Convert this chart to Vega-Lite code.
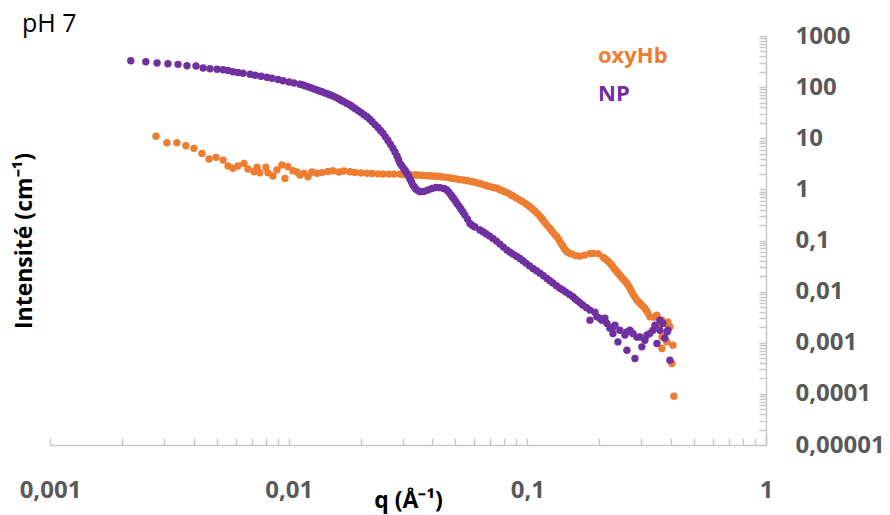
{
  "$schema": "https://vega.github.io/schema/vega-lite/v6.json",
  "width": 716,
  "height": 409,
  "autosize": {"type": "none"},
  "padding": {"left": 50, "top": 36, "right": 124, "bottom": 70},
  "background": "white",
  "config": {"view": {"stroke": null}, "font": "Open Sans"},
  "title": {"text": "pH 7", "anchor": "start", "frame": "group", "dx": -28, "offset": -13, "fontSize": 25, "fontWeight": "normal", "color": "#000000", "font": "Open Sans"},
  "data": {"values": [
    {"series": "oxyHb", "q": 0.00278, "I": 11.0},
    {"series": "oxyHb", "q": 0.00309, "I": 8.16},
    {"series": "oxyHb", "q": 0.00340, "I": 8.16},
    {"series": "oxyHb", "q": 0.00371, "I": 7.13},
    {"series": "oxyHb", "q": 0.00401, "I": 6.34},
    {"series": "oxyHb", "q": 0.00433, "I": 5.06},
    {"series": "oxyHb", "q": 0.00464, "I": 3.92},
    {"series": "oxyHb", "q": 0.00496, "I": 4.23},
    {"series": "oxyHb", "q": 0.00531, "I": 3.74},
    {"series": "oxyHb", "q": 0.00557, "I": 2.86},
    {"series": "oxyHb", "q": 0.00584, "I": 2.58},
    {"series": "oxyHb", "q": 0.00613, "I": 2.86},
    {"series": "oxyHb", "q": 0.00650, "I": 3.23},
    {"series": "oxyHb", "q": 0.00675, "I": 2.50},
    {"series": "oxyHb", "q": 0.00716, "I": 2.21},
    {"series": "oxyHb", "q": 0.00737, "I": 2.70},
    {"series": "oxyHb", "q": 0.00758, "I": 2.11},
    {"series": "oxyHb", "q": 0.00803, "I": 2.70},
    {"series": "oxyHb", "q": 0.00819, "I": 2.11},
    {"series": "oxyHb", "q": 0.00859, "I": 1.82},
    {"series": "oxyHb", "q": 0.00893, "I": 2.39},
    {"series": "oxyHb", "q": 0.00937, "I": 2.99},
    {"series": "oxyHb", "q": 0.00965, "I": 1.64},
    {"series": "oxyHb", "q": 0.00993, "I": 2.77},
    {"series": "oxyHb", "q": 0.01042, "I": 2.31},
    {"series": "oxyHb", "q": 0.01083, "I": 2.18},
    {"series": "oxyHb", "q": 0.01115, "I": 1.91},
    {"series": "oxyHb", "q": 0.01159, "I": 2.08},
    {"series": "oxyHb", "q": 0.01205, "I": 1.76},
    {"series": "oxyHb", "q": 0.01252, "I": 2.18},
    {"series": "oxyHb", "q": 0.01314, "I": 2.06},
    {"series": "oxyHb", "q": 0.01379, "I": 2.13},
    {"series": "oxyHb", "q": 0.01461, "I": 2.23},
    {"series": "oxyHb", "q": 0.01533, "I": 2.31},
    {"series": "oxyHb", "q": 0.01625, "I": 2.18},
    {"series": "oxyHb", "q": 0.01705, "I": 2.28},
    {"series": "oxyHb", "q": 0.01807, "I": 2.21},
    {"series": "oxyHb", "q": 0.01896, "I": 2.15},
    {"series": "oxyHb", "q": 0.02009, "I": 2.10},
    {"series": "oxyHb", "q": 0.02128, "I": 2.06},
    {"series": "oxyHb", "q": 0.02234, "I": 2.04},
    {"series": "oxyHb", "q": 0.02366, "I": 2.01},
    {"series": "oxyHb", "q": 0.02484, "I": 1.99},
    {"series": "oxyHb", "q": 0.02632, "I": 1.99},
    {"series": "oxyHb", "q": 0.02761, "I": 1.99},
    {"series": "oxyHb", "q": 0.02927, "I": 1.99},
    {"series": "oxyHb", "q": 0.03011, "I": 1.975},
    {"series": "oxyHb", "q": 0.03100, "I": 1.95},
    {"series": "oxyHb", "q": 0.03176, "I": 1.94},
    {"series": "oxyHb", "q": 0.03253, "I": 1.92},
    {"series": "oxyHb", "q": 0.03349, "I": 1.91},
    {"series": "oxyHb", "q": 0.03447, "I": 1.91},
    {"series": "oxyHb", "q": 0.03532, "I": 1.90},
    {"series": "oxyHb", "q": 0.03617, "I": 1.88},
    {"series": "oxyHb", "q": 0.03724, "I": 1.86},
    {"series": "oxyHb", "q": 0.03834, "I": 1.85},
    {"series": "oxyHb", "q": 0.03927, "I": 1.84},
    {"series": "oxyHb", "q": 0.04023, "I": 1.82},
    {"series": "oxyHb", "q": 0.04161, "I": 1.81},
    {"series": "oxyHb", "q": 0.04304, "I": 1.78},
    {"series": "oxyHb", "q": 0.04450, "I": 1.75},
    {"series": "oxyHb", "q": 0.04604, "I": 1.72},
    {"series": "oxyHb", "q": 0.04740, "I": 1.68},
    {"series": "oxyHb", "q": 0.04878, "I": 1.64},
    {"series": "oxyHb", "q": 0.05047, "I": 1.60},
    {"series": "oxyHb", "q": 0.05219, "I": 1.55},
    {"series": "oxyHb", "q": 0.05398, "I": 1.52},
    {"series": "oxyHb", "q": 0.05585, "I": 1.49},
    {"series": "oxyHb", "q": 0.05747, "I": 1.45},
    {"series": "oxyHb", "q": 0.05918, "I": 1.41},
    {"series": "oxyHb", "q": 0.06120, "I": 1.35},
    {"series": "oxyHb", "q": 0.06330, "I": 1.30},
    {"series": "oxyHb", "q": 0.06516, "I": 1.24},
    {"series": "oxyHb", "q": 0.06708, "I": 1.19},
    {"series": "oxyHb", "q": 0.06871, "I": 1.155},
    {"series": "oxyHb", "q": 0.07039, "I": 1.12},
    {"series": "oxyHb", "q": 0.07245, "I": 1.08},
    {"series": "oxyHb", "q": 0.07458, "I": 1.05},
    {"series": "oxyHb", "q": 0.07640, "I": 0.995},
    {"series": "oxyHb", "q": 0.07829, "I": 0.947},
    {"series": "oxyHb", "q": 0.08055, "I": 0.898},
    {"series": "oxyHb", "q": 0.08295, "I": 0.846},
    {"series": "oxyHb", "q": 0.08493, "I": 0.791},
    {"series": "oxyHb", "q": 0.08702, "I": 0.740},
    {"series": "oxyHb", "q": 0.08956, "I": 0.685},
    {"series": "oxyHb", "q": 0.09221, "I": 0.631},
    {"series": "oxyHb", "q": 0.09494, "I": 0.585},
    {"series": "oxyHb", "q": 0.09770, "I": 0.539},
    {"series": "oxyHb", "q": 0.1001, "I": 0.497},
    {"series": "oxyHb", "q": 0.1025, "I": 0.457},
    {"series": "oxyHb", "q": 0.1051, "I": 0.415},
    {"series": "oxyHb", "q": 0.1076, "I": 0.376},
    {"series": "oxyHb", "q": 0.1102, "I": 0.336},
    {"series": "oxyHb", "q": 0.1129, "I": 0.300},
    {"series": "oxyHb", "q": 0.1146, "I": 0.274},
    {"series": "oxyHb", "q": 0.1162, "I": 0.251},
    {"series": "oxyHb", "q": 0.1185, "I": 0.224},
    {"series": "oxyHb", "q": 0.1208, "I": 0.200},
    {"series": "oxyHb", "q": 0.1238, "I": 0.175},
    {"series": "oxyHb", "q": 0.1268, "I": 0.153},
    {"series": "oxyHb", "q": 0.1299, "I": 0.133},
    {"series": "oxyHb", "q": 0.1330, "I": 0.118},
    {"series": "oxyHb", "q": 0.1357, "I": 0.102},
    {"series": "oxyHb", "q": 0.1382, "I": 0.0889},
    {"series": "oxyHb", "q": 0.1404, "I": 0.0795},
    {"series": "oxyHb", "q": 0.1423, "I": 0.0710},
    {"series": "oxyHb", "q": 0.1445, "I": 0.0649},
    {"series": "oxyHb", "q": 0.1465, "I": 0.0601},
    {"series": "oxyHb", "q": 0.1502, "I": 0.0567},
    {"series": "oxyHb", "q": 0.1538, "I": 0.0542},
    {"series": "oxyHb", "q": 0.1598, "I": 0.0506},
    {"series": "oxyHb", "q": 0.1661, "I": 0.0495},
    {"series": "oxyHb", "q": 0.1743, "I": 0.0518},
    {"series": "oxyHb", "q": 0.1830, "I": 0.0554},
    {"series": "oxyHb", "q": 0.1883, "I": 0.0560},
    {"series": "oxyHb", "q": 0.1976, "I": 0.0554},
    {"series": "oxyHb", "q": 0.2074, "I": 0.0473},
    {"series": "oxyHb", "q": 0.2114, "I": 0.0442},
    {"series": "oxyHb", "q": 0.2156, "I": 0.0413},
    {"series": "oxyHb", "q": 0.2197, "I": 0.0378},
    {"series": "oxyHb", "q": 0.2240, "I": 0.0345},
    {"series": "oxyHb", "q": 0.2273, "I": 0.0316},
    {"series": "oxyHb", "q": 0.2306, "I": 0.0288},
    {"series": "oxyHb", "q": 0.2340, "I": 0.0264},
    {"series": "oxyHb", "q": 0.2374, "I": 0.0244},
    {"series": "oxyHb", "q": 0.2409, "I": 0.0225},
    {"series": "oxyHb", "q": 0.2443, "I": 0.0210},
    {"series": "oxyHb", "q": 0.2480, "I": 0.0192},
    {"series": "oxyHb", "q": 0.2515, "I": 0.0176},
    {"series": "oxyHb", "q": 0.2564, "I": 0.0161},
    {"series": "oxyHb", "q": 0.2614, "I": 0.0145},
    {"series": "oxyHb", "q": 0.2652, "I": 0.0131},
    {"series": "oxyHb", "q": 0.2691, "I": 0.0117},
    {"series": "oxyHb", "q": 0.2730, "I": 0.0102},
    {"series": "oxyHb", "q": 0.2770, "I": 0.00894},
    {"series": "oxyHb", "q": 0.2824, "I": 0.00781},
    {"series": "oxyHb", "q": 0.2878, "I": 0.00682},
    {"series": "oxyHb", "q": 0.2935, "I": 0.00623},
    {"series": "oxyHb", "q": 0.2992, "I": 0.00569},
    {"series": "oxyHb", "q": 0.3050, "I": 0.00520},
    {"series": "oxyHb", "q": 0.3110, "I": 0.00469},
    {"series": "oxyHb", "q": 0.3155, "I": 0.00425},
    {"series": "oxyHb", "q": 0.3200, "I": 0.00380},
    {"series": "oxyHb", "q": 0.3262, "I": 0.00321},
    {"series": "oxyHb", "q": 0.3392, "I": 0.00317},
    {"series": "oxyHb", "q": 0.3492, "I": 0.00347},
    {"series": "oxyHb", "q": 0.3594, "I": 0.00221},
    {"series": "oxyHb", "q": 0.3664, "I": 0.00277},
    {"series": "oxyHb", "q": 0.3771, "I": 0.00239},
    {"series": "oxyHb", "q": 0.3882, "I": 0.00253},
    {"series": "oxyHb", "q": 0.3958, "I": 0.00205},
    {"series": "oxyHb", "q": 0.3664, "I": 0.00130},
    {"series": "oxyHb", "q": 0.3845, "I": 0.00104},
    {"series": "oxyHb", "q": 0.4074, "I": 0.000898},
    {"series": "oxyHb", "q": 0.3664, "I": 0.000774},
    {"series": "oxyHb", "q": 0.4035, "I": 0.000393},
    {"series": "oxyHb", "q": 0.4113, "I": 0.0000902},
    {"series": "NP", "q": 0.00218, "I": 329},
    {"series": "NP", "q": 0.00252, "I": 314},
    {"series": "NP", "q": 0.00281, "I": 296},
    {"series": "NP", "q": 0.00312, "I": 287},
    {"series": "NP", "q": 0.00344, "I": 279},
    {"series": "NP", "q": 0.00375, "I": 262},
    {"series": "NP", "q": 0.00409, "I": 259},
    {"series": "NP", "q": 0.00438, "I": 237},
    {"series": "NP", "q": 0.00468, "I": 229},
    {"series": "NP", "q": 0.00501, "I": 223},
    {"series": "NP", "q": 0.00531, "I": 219},
    {"series": "NP", "q": 0.00557, "I": 211},
    {"series": "NP", "q": 0.00584, "I": 200},
    {"series": "NP", "q": 0.00613, "I": 193},
    {"series": "NP", "q": 0.00644, "I": 187},
    {"series": "NP", "q": 0.00689, "I": 178},
    {"series": "NP", "q": 0.00723, "I": 171},
    {"series": "NP", "q": 0.00766, "I": 163.5},
    {"series": "NP", "q": 0.00811, "I": 155.5},
    {"series": "NP", "q": 0.00851, "I": 148.7},
    {"series": "NP", "q": 0.00902, "I": 140.8},
    {"series": "NP", "q": 0.00947, "I": 133.4},
    {"series": "NP", "q": 0.01003, "I": 125.9},
    {"series": "NP", "q": 0.01052, "I": 120.3},
    {"series": "NP", "q": 0.01115, "I": 113.4},
    {"series": "NP", "q": 0.01148, "I": 110.0},
    {"series": "NP", "q": 0.01170, "I": 106.0},
    {"series": "NP", "q": 0.01205, "I": 101.4},
    {"series": "NP", "q": 0.01240, "I": 96.9},
    {"series": "NP", "q": 0.01276, "I": 92.2},
    {"series": "NP", "q": 0.01314, "I": 87.8},
    {"series": "NP", "q": 0.01346, "I": 84.2},
    {"series": "NP", "q": 0.01379, "I": 80.9},
    {"series": "NP", "q": 0.01419, "I": 77.0},
    {"series": "NP", "q": 0.01461, "I": 73.3},
    {"series": "NP", "q": 0.01496, "I": 70.0},
    {"series": "NP", "q": 0.01533, "I": 66.9},
    {"series": "NP", "q": 0.01578, "I": 62.6},
    {"series": "NP", "q": 0.01625, "I": 58.5},
    {"series": "NP", "q": 0.01664, "I": 54.9},
    {"series": "NP", "q": 0.01705, "I": 51.6},
    {"series": "NP", "q": 0.01755, "I": 48.0},
    {"series": "NP", "q": 0.01807, "I": 44.6},
    {"series": "NP", "q": 0.01851, "I": 41.3},
    {"series": "NP", "q": 0.01896, "I": 38.1},
    {"series": "NP", "q": 0.01951, "I": 34.8},
    {"series": "NP", "q": 0.02009, "I": 31.8},
    {"series": "NP", "q": 0.02068, "I": 28.9},
    {"series": "NP", "q": 0.02128, "I": 26.3},
    {"series": "NP", "q": 0.02181, "I": 23.8},
    {"series": "NP", "q": 0.02234, "I": 21.2},
    {"series": "NP", "q": 0.02299, "I": 18.5},
    {"series": "NP", "q": 0.02366, "I": 16.2},
    {"series": "NP", "q": 0.02424, "I": 14.2},
    {"series": "NP", "q": 0.02484, "I": 12.5},
    {"series": "NP", "q": 0.02543, "I": 10.65},
    {"series": "NP", "q": 0.02606, "I": 9.02},
    {"series": "NP", "q": 0.02669, "I": 7.60},
    {"series": "NP", "q": 0.02735, "I": 6.34},
    {"series": "NP", "q": 0.02788, "I": 5.37},
    {"series": "NP", "q": 0.02843, "I": 4.48},
    {"series": "NP", "q": 0.02884, "I": 3.83},
    {"series": "NP", "q": 0.02927, "I": 3.23},
    {"series": "NP", "q": 0.02983, "I": 2.86},
    {"series": "NP", "q": 0.03041, "I": 2.50},
    {"series": "NP", "q": 0.03085, "I": 2.28},
    {"series": "NP", "q": 0.03130, "I": 2.06},
    {"series": "NP", "q": 0.03176, "I": 1.82},
    {"series": "NP", "q": 0.03222, "I": 1.59},
    {"series": "NP", "q": 0.03269, "I": 1.39},
    {"series": "NP", "q": 0.03317, "I": 1.21},
    {"series": "NP", "q": 0.03365, "I": 1.11},
    {"series": "NP", "q": 0.03414, "I": 1.01},
    {"series": "NP", "q": 0.03482, "I": 0.947},
    {"series": "NP", "q": 0.03549, "I": 0.898},
    {"series": "NP", "q": 0.03688, "I": 0.906},
    {"series": "NP", "q": 0.03834, "I": 0.969},
    {"series": "NP", "q": 0.03984, "I": 1.04},
    {"series": "NP", "q": 0.04141, "I": 1.09},
    {"series": "NP", "q": 0.04304, "I": 1.08},
    {"series": "NP", "q": 0.04473, "I": 1.04},
    {"series": "NP", "q": 0.04604, "I": 0.969},
    {"series": "NP", "q": 0.04694, "I": 0.866},
    {"series": "NP", "q": 0.04785, "I": 0.774},
    {"series": "NP", "q": 0.04855, "I": 0.707},
    {"series": "NP", "q": 0.04926, "I": 0.646},
    {"series": "NP", "q": 0.04998, "I": 0.590},
    {"series": "NP", "q": 0.05070, "I": 0.532},
    {"series": "NP", "q": 0.05169, "I": 0.471},
    {"series": "NP", "q": 0.05269, "I": 0.412},
    {"series": "NP", "q": 0.05373, "I": 0.360},
    {"series": "NP", "q": 0.05477, "I": 0.314},
    {"series": "NP", "q": 0.05612, "I": 0.262},
    {"series": "NP", "q": 0.05747, "I": 0.216},
    {"series": "NP", "q": 0.05888, "I": 0.197},
    {"series": "NP", "q": 0.06032, "I": 0.183},
    {"series": "NP", "q": 0.06330, "I": 0.160},
    {"series": "NP", "q": 0.06516, "I": 0.148},
    {"series": "NP", "q": 0.06708, "I": 0.136},
    {"series": "NP", "q": 0.06937, "I": 0.123},
    {"series": "NP", "q": 0.07176, "I": 0.110},
    {"series": "NP", "q": 0.07422, "I": 0.0974},
    {"series": "NP", "q": 0.07677, "I": 0.0850},
    {"series": "NP", "q": 0.07942, "I": 0.0743},
    {"series": "NP", "q": 0.08212, "I": 0.0649},
    {"series": "NP", "q": 0.08456, "I": 0.0593},
    {"series": "NP", "q": 0.08702, "I": 0.0542},
    {"series": "NP", "q": 0.09004, "I": 0.0491},
    {"series": "NP", "q": 0.09311, "I": 0.0446},
    {"series": "NP", "q": 0.09585, "I": 0.0402},
    {"series": "NP", "q": 0.09865, "I": 0.0361},
    {"series": "NP", "q": 0.1020, "I": 0.0321},
    {"series": "NP", "q": 0.1056, "I": 0.0284},
    {"series": "NP", "q": 0.1092, "I": 0.0256},
    {"series": "NP", "q": 0.1129, "I": 0.0230},
    {"series": "NP", "q": 0.1168, "I": 0.0205},
    {"series": "NP", "q": 0.1208, "I": 0.0181},
    {"series": "NP", "q": 0.1243, "I": 0.0164},
    {"series": "NP", "q": 0.1280, "I": 0.0147},
    {"series": "NP", "q": 0.1324, "I": 0.0130},
    {"series": "NP", "q": 0.1369, "I": 0.0116},
    {"series": "NP", "q": 0.1410, "I": 0.0107},
    {"series": "NP", "q": 0.1451, "I": 0.00978},
    {"series": "NP", "q": 0.1502, "I": 0.00881},
    {"series": "NP", "q": 0.1552, "I": 0.00791},
    {"series": "NP", "q": 0.1591, "I": 0.00713},
    {"series": "NP", "q": 0.1629, "I": 0.00652},
    {"series": "NP", "q": 0.1669, "I": 0.00596},
    {"series": "NP", "q": 0.1710, "I": 0.00544},
    {"series": "NP", "q": 0.1769, "I": 0.00486},
    {"series": "NP", "q": 0.1830, "I": 0.00435},
    {"series": "NP", "q": 0.1920, "I": 0.00397},
    {"series": "NP", "q": 0.1957, "I": 0.00321},
    {"series": "NP", "q": 0.2054, "I": 0.00277},
    {"series": "NP", "q": 0.2114, "I": 0.00303},
    {"series": "NP", "q": 0.2156, "I": 0.00239},
    {"series": "NP", "q": 0.2284, "I": 0.00202},
    {"series": "NP", "q": 0.2328, "I": 0.00221},
    {"series": "NP", "q": 0.2443, "I": 0.00176},
    {"series": "NP", "q": 0.2614, "I": 0.00163},
    {"series": "NP", "q": 0.2691, "I": 0.00176},
    {"series": "NP", "q": 0.2770, "I": 0.00152},
    {"series": "NP", "q": 0.2878, "I": 0.00129},
    {"series": "NP", "q": 0.2963, "I": 0.00130},
    {"series": "NP", "q": 0.3170, "I": 0.00141},
    {"series": "NP", "q": 0.3360, "I": 0.00176},
    {"series": "NP", "q": 0.3700, "I": 0.00239},
    {"series": "NP", "q": 0.3845, "I": 0.00163},
    {"series": "NP", "q": 0.3492, "I": 0.000969},
    {"series": "NP", "q": 0.3958, "I": 0.000457},
    {"series": "NP", "q": 0.1830, "I": 0.00277},
    {"series": "NP", "q": 0.2284, "I": 0.00152},
    {"series": "NP", "q": 0.2397, "I": 0.00104},
    {"series": "NP", "q": 0.2614, "I": 0.000716},
    {"series": "NP", "q": 0.2824, "I": 0.000493},
    {"series": "NP", "q": 0.3020, "I": 0.000831},
    {"series": "NP", "q": 0.2015, "I": 0.00303},
    {"series": "NP", "q": 0.2218, "I": 0.00193},
    {"series": "NP", "q": 0.2564, "I": 0.00141},
    {"series": "NP", "q": 0.3110, "I": 0.00112},
    {"series": "NP", "q": 0.3262, "I": 0.00152},
    {"series": "NP", "q": 0.3594, "I": 0.00176},
    {"series": "NP", "q": 0.3424, "I": 0.00221},
    {"series": "NP", "q": 0.3771, "I": 0.00123},
    {"series": "NP", "q": 0.3594, "I": 0.00277},
    {"series": "NP", "q": 0.3882, "I": 0.00176}
  ]},
  "mark": {"type": "circle", "size": 55, "opacity": 1},
  "encoding": {
    "x": {
      "field": "q", "type": "quantitative",
      "scale": {"type": "log", "domain": [0.001, 1], "nice": false},
      "axis": {
        "orient": "bottom",
        "values": [0.001,0.002,0.003,0.004,0.005,0.006,0.007,0.008,0.009,0.01,0.02,0.03,0.04,0.05,0.06,0.07,0.08,0.09,0.1,0.2,0.3,0.4,0.5,0.6,0.7,0.8,0.9,1],
        "labelExpr": "abs(log(datum.value)/LN10 - round(log(datum.value)/LN10)) < 0.000001 ? replace(format(datum.value, '~f'), '.', ',') : ''",
        "grid": false,
        "tickSize": -7, "tickWidth": 1.5, "tickColor": "#C8C8C8",
        "domainColor": "#C8C8C8", "domainWidth": 1.5,
        "labelFont": "Open Sans", "labelFontSize": 24, "labelFontWeight": "bold", "labelColor": "#595959",
        "labelPadding": 40, "labelOverlap": false, "labelFlush": false, "labelBound": false,
        "title": "q (Å⁻¹)", "titleFont": "Open Sans", "titleFontSize": 23, "titleFontWeight": "bold", "titleColor": "#000000",
        "titleY": 55, "titleBaseline": "middle"
      }
    },
    "y": {
      "field": "I", "type": "quantitative",
      "scale": {"type": "log", "domain": [0.00001, 1000], "nice": false},
      "axis": {
        "orient": "right",
        "values": [0.00001,0.00002,0.00003,0.00004,0.00005,0.00006,0.00007,0.00008,0.00009,0.0001,0.0002,0.0003,0.0004,0.0005,0.0006,0.0007,0.0008,0.0009,0.001,0.002,0.003,0.004,0.005,0.006,0.007,0.008,0.009,0.01,0.02,0.03,0.04,0.05,0.06,0.07,0.08,0.09,0.1,0.2,0.3,0.4,0.5,0.6,0.7,0.8,0.9,1,2,3,4,5,6,7,8,9,10,20,30,40,50,60,70,80,90,100,200,300,400,500,600,700,800,900,1000],
        "labelExpr": "abs(log(datum.value)/LN10 - round(log(datum.value)/LN10)) < 0.000001 ? replace(format(datum.value, '~f'), '.', ',') : ''",
        "grid": false,
        "tickSize": -7, "tickWidth": 1.5, "tickColor": "#C8C8C8",
        "domainColor": "#C8C8C8", "domainWidth": 1.5,
        "labelFont": "Open Sans", "labelFontSize": 24, "labelFontWeight": "bold", "labelColor": "#595959",
        "labelAlign": "left", "labelBaseline": "middle",
        "labelPadding": 36, "labelOverlap": false, "labelFlush": false, "labelBound": false,
        "title": "Intensité (cm⁻¹)", "titleFont": "Open Sans", "titleFontSize": 23, "titleFontWeight": "bold", "titleColor": "#000000",
        "titleAngle": 270, "titleX": -742, "titleY": 204.5, "titleAlign": "center", "titleBaseline": "middle"
      }
    },
    "color": {
      "field": "series", "type": "nominal",
      "scale": {"domain": ["oxyHb", "NP"], "range": ["#ED7D31", "#7030A0"]},
      "legend": {
        "orient": "none", "legendX": 526, "legendY": 9,
        "title": null, "symbolSize": 0, "symbolOpacity": 0, "labelOffset": 0,
        "labelFont": "Open Sans", "labelFontSize": 22, "labelFontWeight": "bold",
        "rowPadding": 16,
        "encode": {"labels": {"update": {"fill": {"scale": "color", "field": "value"}}}}
      }
    }
  }
}
